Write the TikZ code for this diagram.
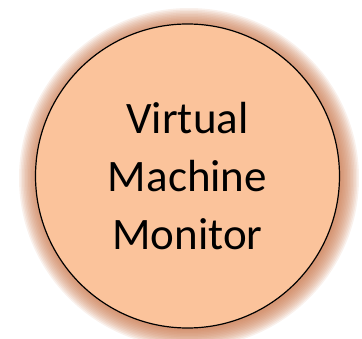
\documentclass[tikz,border=0pt]{standalone}
\usepackage{fontspec}
\setmainfont{Carlito}
\definecolor{peach}{RGB}{251,195,155}
\definecolor{glow}{RGB}{200,115,70}
\tikzset{
  vmmbox/.style={circle, draw=black, line width=1.2pt, fill=peach,
    minimum size=304pt, inner sep=0pt, align=center,
    font=\fontsize{45pt}{58pt}\selectfont}
}
\begin{document}
\begin{tikzpicture}[x=1pt, y=1pt]
        \useasboundingbox (0,0) rectangle (362,338);
        % soft glow behind the circle
        \foreach \r in {152,153.5,...,170}
            \fill[glow, opacity=0.1] (189,160) circle (\r);
        \node[vmmbox] (vmm) at (187.5,162) {Virtual\\Machine\\Monitor};
\end{tikzpicture}
\end{document}
